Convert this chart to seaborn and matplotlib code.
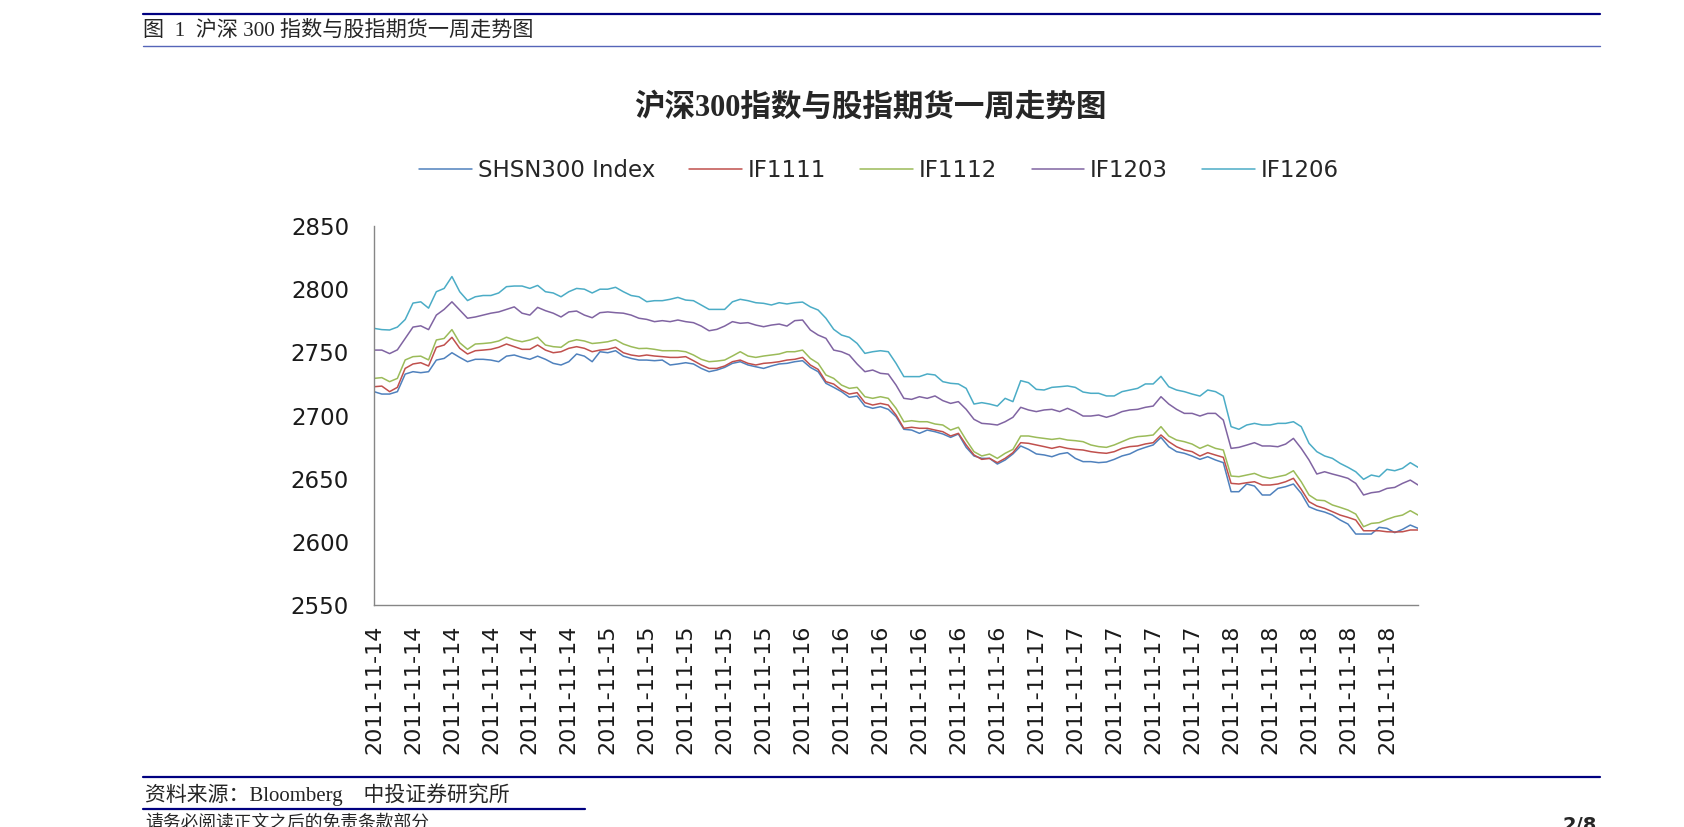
import matplotlib
matplotlib.use('Agg')
import matplotlib.pyplot as plt
from matplotlib.lines import Line2D
import pandas as pd
import seaborn as sns

# ─── Data (one sample every 10 trading minutes) ──────────────────────────────
MINUTES = list(range(0, 1341, 10))

SHSN300 = [
    2718.9, 2717.0, 2717.0, 2718.9, 2732.8, 2734.7, 2733.9, 2734.7, 2743.9, 2745.2,
    2749.7, 2746.0, 2742.6, 2744.5, 2744.5, 2743.9, 2742.6, 2747.0, 2747.9, 2746.0,
    2744.5, 2747.0, 2744.5, 2741.3, 2740.0, 2742.6, 2748.7, 2747.0, 2742.6, 2750.5,
    2749.7, 2751.3, 2747.0, 2745.2, 2743.9, 2743.9, 2743.4, 2743.9, 2740.0, 2740.8,
    2741.8, 2740.8, 2737.3, 2734.7, 2736.0, 2738.1, 2741.3, 2742.6, 2740.0, 2738.6,
    2737.3, 2739.2, 2740.8, 2741.3, 2742.6, 2743.4, 2738.1, 2734.7, 2725.5, 2722.3,
    2718.9, 2714.4, 2715.4, 2707.5, 2705.7, 2707.0, 2704.9, 2699.1, 2689.1, 2688.5,
    2685.9, 2688.5, 2687.2, 2685.4, 2682.7, 2685.4, 2674.8, 2668.0, 2666.1, 2666.1,
    2661.6, 2664.8, 2669.6, 2675.9, 2673.2, 2669.6, 2668.8, 2667.4, 2669.6, 2670.6,
    2666.1, 2663.5, 2663.5, 2662.7, 2663.2, 2665.3, 2668.0, 2669.6, 2672.7, 2674.8,
    2676.7, 2682.7, 2675.3, 2671.4, 2670.1, 2667.9, 2665.3, 2667.4, 2664.8, 2662.7,
    2639.7, 2639.7, 2645.8, 2644.2, 2637.1, 2637.1, 2642.3, 2643.7, 2645.8, 2638.4,
    2627.8, 2625.2, 2623.6, 2621.2, 2617.3, 2614.1, 2606.2, 2606.2, 2606.2, 2611.5,
    2610.7, 2607.3, 2609.9, 2613.3, 2610.7,
]

IF1111 = [
    2722.8, 2723.3, 2718.9, 2722.3, 2737.3, 2740.8, 2741.8, 2739.2, 2754.0, 2755.8,
    2761.9, 2753.2, 2748.7, 2751.3, 2751.8, 2752.4, 2754.0, 2756.6, 2754.5, 2752.4,
    2752.4, 2755.8, 2751.8, 2749.7, 2750.5, 2753.2, 2754.5, 2753.2, 2750.5, 2751.8,
    2752.4, 2754.0, 2749.7, 2747.9, 2747.0, 2747.9, 2747.1, 2746.6, 2746.0, 2746.0,
    2746.6, 2743.4, 2740.0, 2737.3, 2737.3, 2739.2, 2742.6, 2743.9, 2741.3, 2740.0,
    2741.3, 2741.8, 2742.6, 2743.9, 2744.5, 2746.0, 2740.0, 2736.5, 2726.8, 2724.9,
    2720.2, 2717.0, 2718.1, 2710.2, 2708.3, 2709.6, 2708.3, 2700.4, 2689.9, 2690.7,
    2689.9, 2689.9, 2688.5, 2687.2, 2683.8, 2685.9, 2676.7, 2668.8, 2665.3, 2666.1,
    2662.7, 2666.1, 2670.6, 2678.5, 2678.0, 2676.7, 2675.4, 2674.0, 2675.4, 2674.0,
    2673.2, 2672.7, 2671.4, 2670.6, 2670.1, 2671.4, 2674.0, 2675.4, 2675.9, 2677.5,
    2678.5, 2684.6, 2679.3, 2675.3, 2672.7, 2671.4, 2667.9, 2670.6, 2668.7, 2666.9,
    2646.3, 2645.8, 2646.8, 2647.6, 2645.0, 2645.0, 2645.8, 2647.6, 2650.3, 2641.6,
    2631.8, 2628.4, 2626.5, 2623.9, 2621.2, 2619.4, 2617.3, 2608.8, 2608.8, 2608.8,
    2608.0, 2607.8, 2608.0, 2609.4, 2609.4,
]

IF1112 = [
    2729.4, 2730.0, 2726.8, 2729.4, 2744.0, 2746.6, 2747.0, 2744.0, 2759.8, 2761.0,
    2768.0, 2757.6, 2752.4, 2756.6, 2757.0, 2757.6, 2759.0, 2762.0, 2759.8, 2758.4,
    2759.8, 2762.0, 2755.8, 2754.5, 2754.0, 2758.4, 2760.0, 2759.0, 2757.0, 2757.6,
    2758.4, 2760.0, 2756.6, 2754.5, 2753.0, 2753.2, 2752.4, 2751.3, 2751.3, 2751.3,
    2750.5, 2747.9, 2744.5, 2742.6, 2743.1, 2743.9, 2747.1, 2750.5, 2747.1, 2746.0,
    2747.1, 2747.9, 2748.7, 2750.5, 2750.5, 2751.8, 2745.2, 2741.3, 2732.1, 2729.4,
    2724.1, 2721.5, 2722.3, 2714.9, 2713.6, 2714.9, 2713.6, 2705.7, 2695.1, 2695.9,
    2695.1, 2695.1, 2693.3, 2692.5, 2688.5, 2690.7, 2680.6, 2671.4, 2668.0, 2669.5,
    2666.1, 2670.1, 2673.2, 2683.8, 2683.8, 2682.7, 2681.9, 2681.1, 2681.9, 2680.6,
    2680.1, 2679.3, 2676.7, 2675.4, 2674.8, 2676.7, 2679.3, 2681.9, 2683.3, 2683.8,
    2684.6, 2691.2, 2683.8, 2680.6, 2679.3, 2677.4, 2674.0, 2676.6, 2674.0, 2672.7,
    2652.1, 2651.6, 2652.9, 2654.2, 2651.6, 2650.3, 2651.6, 2652.9, 2656.3, 2647.6,
    2637.1, 2633.1, 2632.6, 2629.2, 2627.3, 2625.2, 2622.0, 2612.0, 2614.6, 2615.2,
    2617.8, 2619.9, 2621.2, 2624.7, 2621.2,
]

IF1203 = [
    2751.8, 2751.8, 2749.0, 2752.0, 2761.0, 2770.0, 2771.0, 2768.0, 2779.5, 2784.0,
    2790.0, 2783.5, 2777.0, 2778.0, 2779.5, 2781.0, 2782.0, 2784.0, 2786.0, 2781.0,
    2779.5, 2785.6, 2783.0, 2781.0, 2778.0, 2782.0, 2782.7, 2779.5, 2777.4, 2781.4,
    2782.0, 2781.4, 2781.0, 2779.5, 2777.0, 2776.1, 2774.3, 2775.1, 2774.3, 2775.6,
    2774.3, 2773.5, 2770.8, 2767.1, 2768.2, 2770.8, 2774.3, 2773.0, 2773.5, 2771.6,
    2770.3, 2771.6, 2772.4, 2770.8, 2775.1, 2775.6, 2767.7, 2763.7, 2761.1, 2751.8,
    2750.5, 2747.9, 2740.8, 2734.7, 2736.0, 2733.4, 2732.8, 2724.1, 2713.6, 2712.8,
    2714.9, 2713.6, 2715.5, 2711.8, 2709.6, 2711.0, 2704.9, 2697.0, 2693.8, 2693.3,
    2692.5, 2695.1, 2698.6, 2706.5, 2704.4, 2703.1, 2704.4, 2704.9, 2703.1, 2705.7,
    2703.1, 2699.6, 2699.6, 2700.4, 2698.6, 2700.4, 2703.1, 2704.4, 2704.9, 2706.5,
    2707.5, 2714.9, 2709.1, 2704.9, 2701.7, 2701.7, 2699.6, 2701.7, 2701.7, 2696.4,
    2674.0, 2674.8, 2676.6, 2678.5, 2675.9, 2675.9, 2675.3, 2677.4, 2681.9, 2674.0,
    2664.8, 2653.7, 2655.5, 2653.7, 2652.1, 2650.3, 2646.3, 2637.1, 2638.9, 2639.7,
    2642.3, 2643.1, 2646.3, 2648.9, 2645.0,
]

IF1206 = [
    2769.0, 2768.0, 2767.7, 2770.0, 2776.0, 2789.0, 2790.0, 2785.0, 2798.0, 2800.6,
    2810.0, 2798.0, 2791.0, 2794.0, 2795.0, 2795.0, 2797.0, 2802.0, 2802.5, 2802.5,
    2800.6, 2803.0, 2798.0, 2797.0, 2794.0, 2798.0, 2800.6, 2800.0, 2797.0, 2800.0,
    2800.0, 2801.5, 2798.0, 2795.0, 2794.0, 2790.1, 2790.9, 2790.9, 2792.0, 2793.5,
    2791.4, 2790.9, 2787.5, 2784.0, 2784.0, 2784.0, 2790.0, 2792.0, 2790.9, 2789.3,
    2788.8, 2787.5, 2789.3, 2788.3, 2789.3, 2789.8, 2786.0, 2783.5, 2777.0, 2768.2,
    2763.7, 2761.9, 2757.1, 2749.2, 2750.5, 2751.3, 2750.5, 2741.3, 2730.8, 2730.8,
    2730.8, 2732.9, 2732.1, 2726.8, 2725.5, 2725.0, 2721.5, 2709.1, 2710.2, 2709.1,
    2707.5, 2713.6, 2711.0, 2727.6, 2726.0, 2720.7, 2720.2, 2722.3, 2722.8, 2723.4,
    2722.3, 2718.6, 2717.6, 2717.6, 2715.5, 2715.5, 2718.9, 2720.2, 2721.5, 2725.0,
    2725.0, 2731.0, 2722.8, 2720.2, 2718.9, 2717.0, 2715.4, 2720.2, 2718.9, 2715.4,
    2691.2, 2689.1, 2692.5, 2693.8, 2692.5, 2692.5, 2693.8, 2693.8, 2695.1, 2691.2,
    2678.0, 2671.4, 2668.0, 2666.1, 2662.1, 2659.0, 2655.5, 2649.5, 2652.9, 2651.6,
    2657.4, 2656.3, 2658.2, 2662.7, 2659.0,
]

SERIES = ['SHSN300 Index', 'IF1111', 'IF1112', 'IF1203', 'IF1206']
COLORS = ['#4F81BD', '#C0504D', '#9BBB59', '#8064A2', '#4BACC6']
DAYS = ['2011-11-14', '2011-11-15', '2011-11-16', '2011-11-17', '2011-11-18']
MINUTES_PER_DAY = 270
LABEL_STEP = 50

AXIS_GREY = '#868686'
NAVY = '#000080'
CJK = ['Liberation Serif', 'Noto Sans CJK SC']

sns.set_style('white')
plt.rcParams['font.family'] = ['DejaVu Sans', 'Noto Sans CJK SC']

fig = plt.figure(figsize=(16.84, 8.27), dpi=100)
ax = fig.add_axes([0.2221, 0.2684, 0.6200, 0.4583])

wide = pd.DataFrame({'minute': MINUTES, 'SHSN300 Index': SHSN300, 'IF1111': IF1111,
                     'IF1112': IF1112, 'IF1203': IF1203, 'IF1206': IF1206})
df = wide.melt(id_vars='minute', var_name='series', value_name='value')

sns.lineplot(data=df, x='minute', y='value', hue='series', hue_order=SERIES,
             palette=dict(zip(SERIES, COLORS)), linewidth=1.1, errorbar=None,
             estimator=None, ax=ax)

ax.set_xlim(0, MINUTES[-1])
ax.set_ylim(2550, 2850)
ax.set_yticks(range(2550, 2851, 50))
ax.set_xlabel('')
ax.set_ylabel('')

# date labels every 50 points, tick marks only at day boundaries
label_pos = list(range(0, MINUTES[-1], LABEL_STEP))
ax.set_xticks(label_pos)
ax.set_xticklabels([DAYS[p // MINUTES_PER_DAY] for p in label_pos], rotation=90)
ax.set_xticks(range(0, MINUTES[-1], MINUTES_PER_DAY), minor=True)
ax.xaxis.remove_overlapping_locs = False

ax.tick_params(axis='x', which='major', length=0, pad=14, labelsize=16, labelcolor='#1a1a1a')
ax.tick_params(axis='x', which='minor', length=13, width=1, direction='inout', color=AXIS_GREY)
ax.tick_params(axis='y', length=0, pad=18, labelsize=16.5, labelcolor='#1a1a1a')

for side in ['top', 'right']:
    ax.spines[side].set_visible(False)
for side in ['left', 'bottom']:
    ax.spines[side].set_color(AXIS_GREY)
    ax.spines[side].set_linewidth(1)

handles, labels = ax.get_legend_handles_labels()
ax.legend(handles, labels, ncol=5, loc='center', bbox_to_anchor=(0.522, 0.7944),
          bbox_transform=fig.transFigure, frameon=False, fontsize=16.5,
          handlelength=2.3, handletextpad=0.25, columnspacing=1.5)

fig.text(870 / 1684, 1 - 108 / 827, '沪深300指数与股指期货一周走势图', ha='center', va='center',
         fontsize=22, fontweight='bold', family=CJK)

# report page header / footer
x0, x1 = 143 / 1684, 1600 / 1684
fig.add_artist(Line2D([x0, x1], [1 - 14 / 827] * 2, color=NAVY, lw=1.6))
fig.add_artist(Line2D([x0, x1], [1 - 46 / 827] * 2, color='#5565b8', lw=1))
fig.text(x0, 1 - 31 / 827, '图  1  沪深 300 指数与股指期货一周走势图', ha='left', va='center',
         fontsize=15.2, family=CJK)

fig.add_artist(Line2D([x0, x1], [1 - 777 / 827] * 2, color=NAVY, lw=1.6))
fig.text(145 / 1684, 1 - 795 / 827, '资料来源：Bloomberg　中投证券研究所', ha='left', va='center',
         fontsize=15, family=CJK)
fig.add_artist(Line2D([x0, 585 / 1684], [1 - 809 / 827] * 2, color=NAVY, lw=1.6))
fig.text(145 / 1684, 1 - 815 / 827, '请务必阅读正文之后的免责条款部分', ha='left', va='top',
         fontsize=12.8, family=CJK)
fig.text(1563 / 1684, 1 - 816 / 827, '2/8', ha='left', va='top', fontsize=14,
         fontweight='bold')

fig.savefig('out.png', dpi=100)
